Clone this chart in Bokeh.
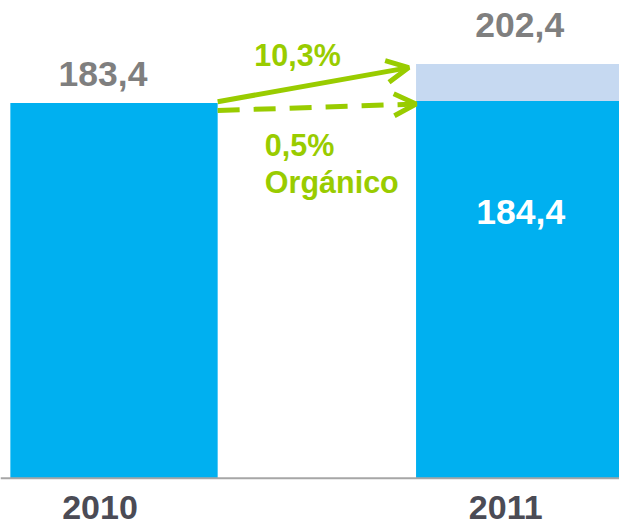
from bokeh.plotting import figure
from bokeh.models import Range1d, Arrow, OpenHead, Span
from bokeh.core.properties import value
from bokeh.embed import file_html
from bokeh.resources import INLINE

# ---- data ----
years = ["2010", "2011"]
organic = [183.4, 184.4]          # organic revenue (blue)
total = [183.4, 202.4]            # total incl. acquisitions
total_labels = ["183,4", "202,4"]
organic_label_2011 = "184,4"
growth_total = "10,3%"
growth_organic = "0,5%"
organic_caption = "Orgánico"

xs = list(range(len(years)))
BAR_W = 0.511
BLUE = "#00b0f0"
LIGHT = "#c6d9f1"
GREEN = "#99cc00"
GRAY = "#7f7f7f"
DARK = "#4b4b55"
FONT = value("Liberation Sans")

p = figure(width=619, height=521,
           x_range=Range1d(-0.2798, 1.246), y_range=Range1d(-21.17, 233.5),
           output_backend="svg", toolbar_location=None, min_border=0,
           x_axis_location=None, y_axis_location=None)
p.grid.visible = False
p.outline_line_color = None

# bars
p.vbar(x=xs, top=organic, width=BAR_W, fill_color=BLUE, line_color=None)
p.vbar(x=xs[1:], bottom=organic[1:], top=total[1:], width=BAR_W,
       fill_color=LIGHT, line_color=None)

# baseline
p.add_layout(Span(location=0, dimension="width", line_color="#a6a6a6", line_width=2))

# value labels
p.text(x=xs[:1], y=total[:1], text=total_labels[:1], text_align="center",
       text_baseline="alphabetic", x_offset=-11, y_offset=-29,
       text_font=FONT, text_font_style="bold", text_font_size="35.5px", text_color=GRAY)
p.text(x=xs[1:], y=total[1:], text=total_labels[1:], text_align="center",
       text_baseline="alphabetic", x_offset=0, y_offset=-39,
       text_font=FONT, text_font_style="bold", text_font_size="35.5px", text_color=GRAY)
p.text(x=xs[1:], y=organic[1:], text=[organic_label_2011], text_align="center",
       text_baseline="alphabetic", x_offset=1, y_offset=111,
       text_font=FONT, text_font_style="bold", text_font_size="35.5px", text_color="white")

# year labels
p.text(x=xs, y=[0, 0], text=years, text_align="center", text_baseline="alphabetic",
       x_offset=-14, y_offset=29,
       text_font=FONT, text_font_style="bold", text_font_size="34px", text_color=DARK)

# growth arrows
x_from = xs[0] + BAR_W / 2
x_to = xs[1] - BAR_W / 2
p.add_layout(Arrow(x_start=x_from, y_start=total[0] + 0.6,
                   x_end=x_to - 0.018, y_end=total[1] - 1.7,
                   line_color=GREEN, line_width=5,
                   end=OpenHead(size=22, line_color=GREEN, line_width=5)))
p.add_layout(Arrow(x_start=x_from, y_start=organic[0] - 3.7,
                   x_end=x_to, y_end=organic[1] - 1.5,
                   line_color=GREEN, line_width=5, line_dash="22 14",
                   end=OpenHead(size=22, line_color=GREEN, line_width=5)))

# growth labels
mid = (xs[0] + xs[1]) / 2
p.text(x=[mid], y=total[1:], text=[growth_total], text_align="left",
       text_baseline="alphabetic", x_offset=-62.5, y_offset=-9,
       text_font=FONT, text_font_style="bold", text_font_size="30.5px", text_color=GREEN)
p.text(x=[mid, mid], y=[organic[1], organic[1]], text=[growth_organic, organic_caption],
       text_align="left", text_baseline="alphabetic", x_offset=-52, y_offset=[44.5, 81.5],
       text_font=FONT, text_font_style="bold", text_font_size="30.5px", text_color=GREEN)

open("out.html", "w").write(file_html(p, INLINE))
